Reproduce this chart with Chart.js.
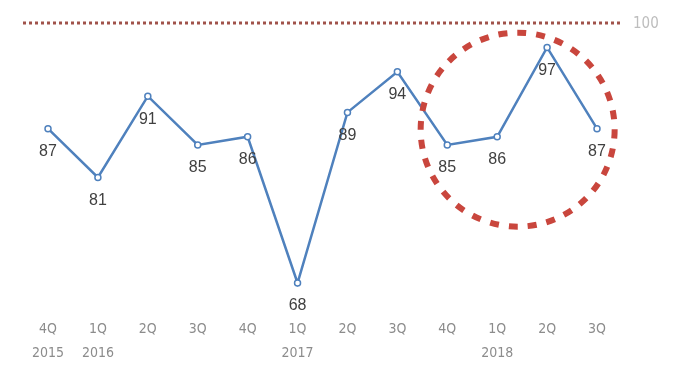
<!DOCTYPE html>
<html>
<head>
<meta charset="utf-8">
<script src="https://cdn.jsdelivr.net/npm/chart.js@4/dist/chart.umd.min.js"></script>
<style>
  html, body { margin: 0; padding: 0; background: #fff; }
  #wrap { width: 680px; height: 366px; }
</style>
</head>
<body>
<div id="wrap"><canvas id="myChart"></canvas></div>
<script>
// data
var quarters = ['4Q', '1Q', '2Q', '3Q', '4Q', '1Q', '2Q', '3Q', '4Q', '1Q', '2Q', '3Q'];
var years = ['2015', '2016', '', '', '', '2017', '', '', '', '2018', '', ''];
var scores = [87, 81, 91, 85, 86, 68, 89, 94, 85, 86, 97, 87];
var target = 100;
var highlightFrom = 8;   // circled points: index 8..11

var labels = quarters.map(function (q, i) { return [q, years[i]]; });

var FONT = "'Liberation Sans Narrow', 'DejaVu Sans Condensed', 'Open Sans', sans-serif";

// values below each point + dotted target line + red circle
var extras = {
    id: 'extras',
    afterDatasetsDraw: function (chart) {
        var c = chart.ctx;
        var ys = chart.scales.y;
        var meta = chart.getDatasetMeta(0);

        // target line
        var ty = ys.getPixelForValue(target);
        c.save();
        c.strokeStyle = '#a0524a';
        c.lineWidth = 3;
        c.setLineDash([3, 3]);
        c.beginPath();
        c.moveTo(23, ty);
        c.lineTo(620, ty);
        c.stroke();
        c.setLineDash([]);
        c.fillStyle = '#bdbdbd';
        c.font = '15px ' + FONT;
        c.textAlign = 'left';
        c.textBaseline = 'middle';
        c.fillText(String(target), 633, ty + 1);

        // red dashed circle around last points
        var first = meta.data[highlightFrom], last = meta.data[meta.data.length - 1];
        var cx = first.x + (last.x - first.x) * 0.47;
        var cy = ys.getPixelForValue(87) + 1;
        c.strokeStyle = '#c9463d';
        c.lineWidth = 6;
        c.setLineDash([9, 10]);
        c.beginPath();
        c.arc(cx, cy, 97, 0, Math.PI * 2);
        c.stroke();
        c.setLineDash([]);

        // value labels
        c.fillStyle = '#404040';
        c.font = '16px ' + "'Liberation Sans', 'DejaVu Sans', sans-serif";
        c.textAlign = 'center';
        c.textBaseline = 'middle';
        meta.data.forEach(function (pt, i) {
            c.fillText(String(scores[i]), pt.x, pt.y + 23);
        });
        c.restore();
    }
};

var ctx = document.getElementById('myChart');
var myChart = new Chart(ctx, {
    type: 'line',
    data: {
        labels: labels,
        datasets: [{
            data: scores,
            borderColor: '#4f81bd',
            borderWidth: 2.5,
            pointRadius: 3,
            pointBorderWidth: 1.5,
            pointBackgroundColor: '#fff',
            pointBorderColor: '#4f81bd',
            tension: 0
        }]
    },
    options: {
        responsive: true,
        maintainAspectRatio: false,
        animation: false,
        layout: { padding: { left: 48, right: 83, top: 23, bottom: -1 } },
        plugins: {
            legend: { display: false },
            tooltip: { enabled: false }
        },
        scales: {
            x: {
                offset: false,
                grid: { display: false },
                border: { display: false },
                ticks: {
                    color: '#8c8c8c',
                    font: { size: 14, family: FONT, lineHeight: 1.7 },
                    maxRotation: 0,
                    autoSkip: false,
                    padding: 2
                }
            },
            y: {
                display: false,
                min: 65,
                max: 100
            }
        }
    },
    plugins: [extras]
});
</script>
</body>
</html>
